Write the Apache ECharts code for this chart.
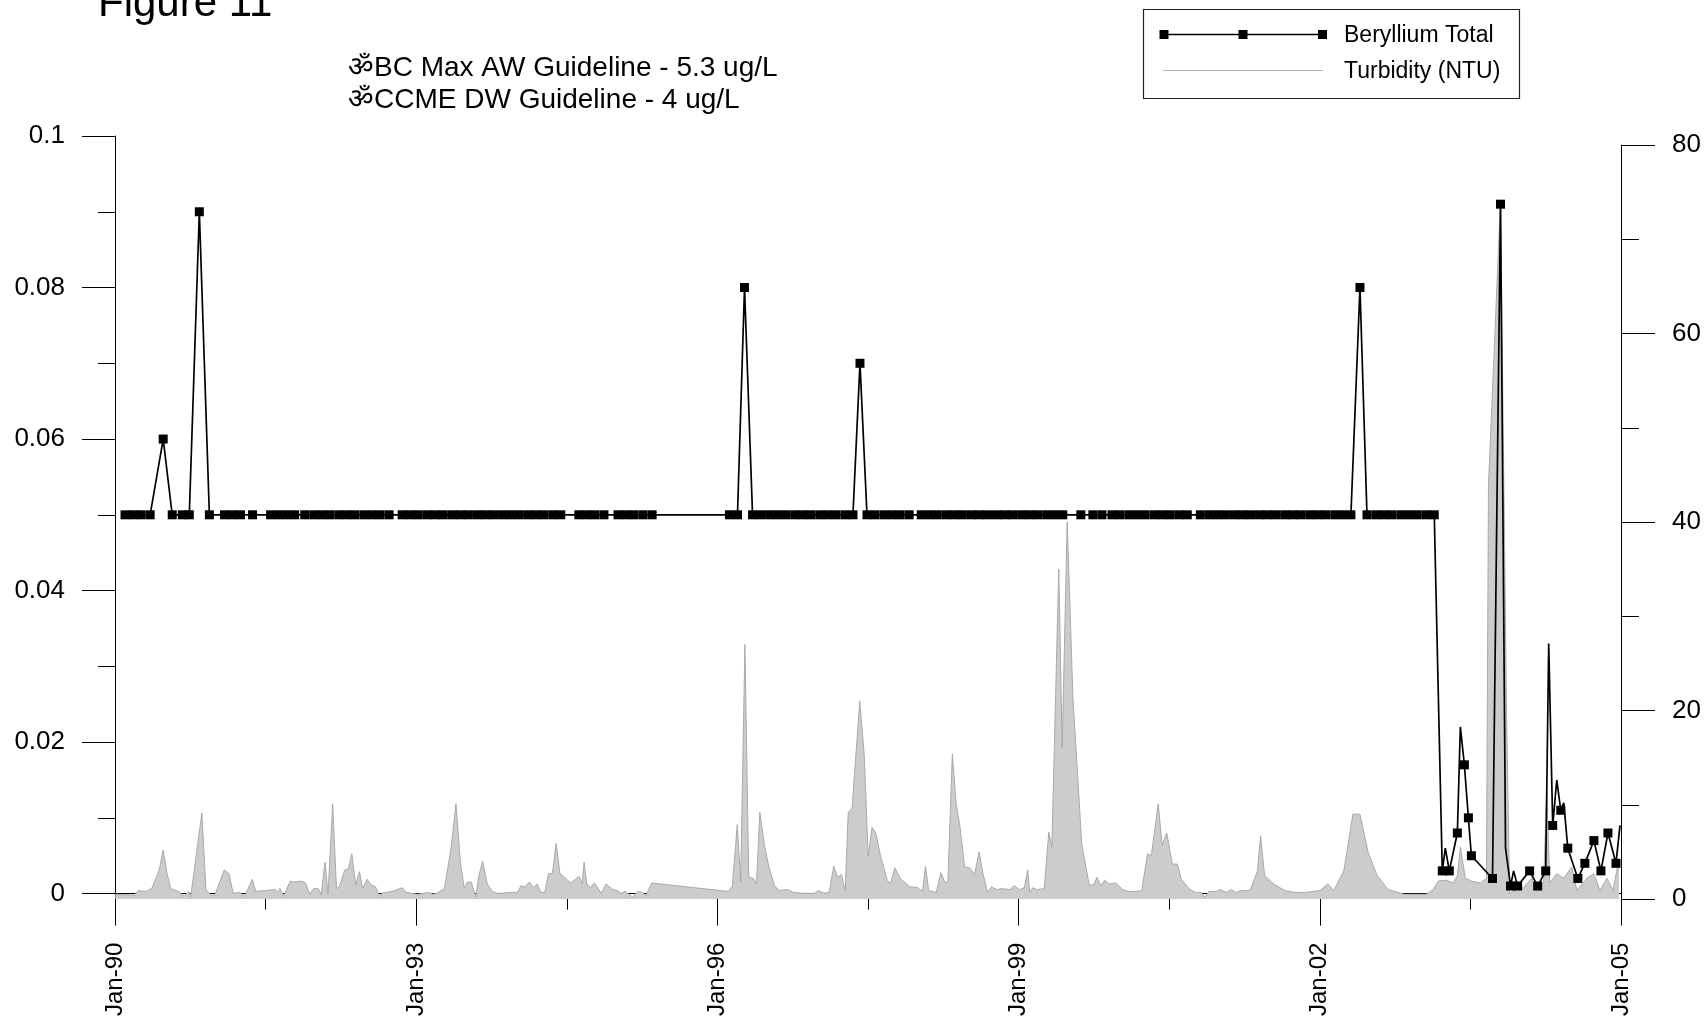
<!DOCTYPE html>
<html>
<head>
<meta charset="utf-8">
<style>html,body{margin:0;padding:0;background:#fff;}#c{width:1707px;height:1019px;}</style>
<script src="https://cdn.jsdelivr.net/npm/echarts@6/dist/echarts.min.js"></script>
</head>
<body>
<div id="c"></div>
<script>
// ---------- data ----------
const xTickLabels = ['Jan-90','Jan-93','Jan-96','Jan-99','Jan-02','Jan-05'];

const beYears = [
1990.10,1990.18,1990.26,1990.35,1990.48,1990.57,1990.67,1990.74,1990.84,1990.94,
1991.09,1991.17,1991.25,1991.37,1991.55,1991.63,1991.71,1991.79,
1991.89,1991.98,1992.06,1992.14,1992.23,1992.31,1992.39,1992.48,1992.56,1992.64,1992.73,
1992.86,1992.94,1993.02,1993.11,1993.19,1993.27,1993.36,1993.44,1993.52,1993.61,
1993.69,1993.77,1993.86,1993.94,1994.02,1994.11,1994.19,1994.27,1994.36,1994.44,
1994.62,1994.70,1994.78,1994.87,
1995.01,1995.09,1995.17,1995.26,
1995.35,
1996.12,1996.20,1996.27,
1996.35,1996.43,1996.52,1996.60,1996.68,1996.77,1996.85,1996.93,1997.02,1997.10,1997.18,1997.27,1997.35,
1997.42,
1997.49,1997.57,1997.66,1997.74,1997.82,1997.91,
1998.03,1998.11,1998.19,1998.28,1998.36,1998.44,1998.53,1998.61,1998.69,
1998.78,1998.86,1998.94,1999.03,1999.11,1999.19,1999.28,1999.36,1999.44,
1999.62,
1999.74,1999.83,
1999.93,2000.01,2000.10,2000.18,2000.26,2000.35,2000.43,2000.51,2000.60,2000.68,
2000.81,2000.90,2000.98,2001.06,2001.15,2001.23,2001.31,2001.40,2001.48,2001.56,
2001.65,2001.73,2001.81,2001.90,2001.98,2002.06,2002.15,2002.23,2002.31,
2002.40,
2002.47,2002.56,2002.64,2002.72,2002.81,2002.89,2002.97,2003.06,2003.14,
2003.22,2003.25,2003.29,2003.37,2003.40,2003.44,2003.48,2003.51,2003.72,2003.80,
2003.85,2003.90,2003.93,2003.97,2004.09,2004.17,2004.25,2004.28,2004.32,2004.36,
2004.40,2004.43,2004.47,2004.57,2004.64,2004.73,2004.80,2004.87,2004.95,2004.99
];
const beValues = [
0.05,0.05,0.05,0.05,0.06,0.05,0.05,0.05,0.09,0.05,
0.05,0.05,0.05,0.05,0.05,0.05,0.05,0.05,
0.05,0.05,0.05,0.05,0.05,0.05,0.05,0.05,0.05,0.05,0.05,
0.05,0.05,0.05,0.05,0.05,0.05,0.05,0.05,0.05,0.05,
0.05,0.05,0.05,0.05,0.05,0.05,0.05,0.05,0.05,0.05,
0.05,0.05,0.05,0.05,
0.05,0.05,0.05,0.05,
0.05,
0.05,0.05,0.08,
0.05,0.05,0.05,0.05,0.05,0.05,0.05,0.05,0.05,0.05,0.05,0.05,0.05,
0.07,
0.05,0.05,0.05,0.05,0.05,0.05,
0.05,0.05,0.05,0.05,0.05,0.05,0.05,0.05,0.05,
0.05,0.05,0.05,0.05,0.05,0.05,0.05,0.05,0.05,
0.05,
0.05,0.05,
0.05,0.05,0.05,0.05,0.05,0.05,0.05,0.05,0.05,0.05,
0.05,0.05,0.05,0.05,0.05,0.05,0.05,0.05,0.05,0.05,
0.05,0.05,0.05,0.05,0.05,0.05,0.05,0.05,0.05,
0.08,
0.05,0.05,0.05,0.05,0.05,0.05,0.05,0.05,0.05,
0.003,0.006,0.003,0.008,0.022,0.017,0.010,0.005,0.002,0.091,
0.006,0.001,0.003,0.001,0.003,0.001,0.003,0.033,0.009,0.015,
0.011,0.012,0.006,0.002,0.004,0.007,0.003,0.008,0.004,0.009
];
// line vertices drawn without a marker
const beNoMarker = [2003.25,2003.40,2003.85,2003.93,2004.28,2004.36,2004.43,2004.99];

const turbYears = [
1990.003,1990.194,1990.232,1990.308,1990.365,1990.441,1990.480,1990.518,1990.556,1990.632,
1990.689,1990.735,1990.754,1990.865,1990.906,1990.956,1990.994,1991.089,1991.135,1991.177,
1991.242,1991.292,1991.368,1991.402,1991.490,1991.596,1991.623,1991.642,1991.680,1991.745,
1991.783,1991.852,1991.898,1991.940,1991.978,1992.023,1992.054,1992.092,1992.122,1992.168,
1992.206,1992.233,1992.290,1992.321,1992.359,1992.397,1992.435,1992.466,1992.511,1992.549,
1992.595,1992.633,1992.671,1992.709,1992.786,1992.862,1992.900,1992.957,1993.014,1993.121,
1993.167,1993.205,1993.281,1993.350,1993.396,1993.441,1993.479,1993.510,1993.548,1993.594,
1993.624,1993.662,1993.708,1993.758,1993.803,1993.853,1993.910,1993.948,1994.006,1994.044,
1994.082,1994.127,1994.166,1994.204,1994.242,1994.280,1994.318,1994.356,1994.394,1994.432,
1994.539,1994.623,1994.653,1994.672,1994.699,1994.737,1994.775,1994.844,1994.890,1994.958,
1995.004,1995.042,1995.080,1995.157,1995.206,1995.252,1995.290,1995.347,
1996.110,1996.149,1996.198,1996.232,1996.274,1996.312,1996.358,1996.389,1996.423,1996.472,
1996.511,1996.568,1996.617,1996.701,1996.758,1996.854,1996.968,1997.006,1997.063,1997.113,
1997.159,1997.197,1997.235,1997.273,1997.303,1997.341,1997.418,1997.463,1997.502,1997.540,
1997.578,1997.624,1997.692,1997.723,1997.768,1997.826,1997.864,1997.913,1997.997,1998.043,
1998.073,1998.104,1998.180,1998.226,1998.264,1998.295,1998.340,1998.378,1998.417,1998.462,
1998.512,1998.561,1998.607,1998.645,1998.691,1998.729,1998.779,1998.836,1998.912,1998.958,
1999.007,1999.057,1999.091,1999.110,1999.141,1999.179,1999.255,1999.301,1999.331,1999.400,
1999.434,1999.484,1999.541,1999.629,1999.705,1999.751,1999.781,1999.819,1999.857,1999.903,
1999.972,2000.036,2000.093,2000.170,2000.227,2000.284,2000.322,2000.391,2000.429,2000.475,
2000.532,2000.582,2000.620,2000.696,2000.761,2000.818,2000.856,2000.894,2000.970,2001.008,
2001.066,2001.123,2001.161,2001.218,2001.306,2001.380,2001.410,2001.450,2001.540,2001.650,
2001.750,2001.860,2002.000,2002.080,2002.140,2002.240,2002.330,2002.400,2002.480,2002.570,
2002.680,2002.840,2003.060,2003.130,2003.180,2003.260,2003.330,2003.370,2003.400,2003.450,
2003.510,2003.600,2003.660,2003.680,2003.800,2003.860,2003.890,2003.940,2004.030,2004.110,
2004.160,2004.230,2004.260,2004.290,2004.360,2004.430,2004.510,2004.560,2004.660,2004.730,
2004.790,2004.860,2004.920,2004.980
];
const turbValues = [
0.5,0.4,0.9,0.8,1.1,3.1,5.2,2.7,1.1,0.8,
0.3,0.8,0.2,9.1,1.0,0.4,0.4,3.1,2.7,0.6,
0.7,0.3,2.1,0.8,0.9,1.0,0.7,1.1,0.3,1.9,
1.8,1.9,1.7,0.5,1.1,1.1,0.5,3.9,0.5,10.1,
1.1,1.3,3.1,3.1,4.8,1.5,2.9,1.1,2.1,1.5,
1.3,0.3,0.7,0.7,0.9,1.2,0.7,0.6,0.5,0.7,
0.5,0.6,1.1,5.6,10.1,3.8,1.1,1.8,1.8,0.2,
2.5,4.0,1.6,0.8,0.6,0.6,0.7,0.7,0.7,1.4,
1.3,1.8,1.2,1.6,0.7,0.7,2.7,2.7,5.9,2.7,
1.7,2.4,1.6,3.9,1.6,1.2,1.7,0.6,1.6,1.0,
0.9,0.6,0.8,0.2,0.8,0.7,0.4,1.7,
0.8,1.4,7.9,1.8,27.0,2.3,2.2,1.6,9.2,5.5,
3.5,1.4,0.9,1.0,0.7,0.6,0.6,0.9,0.6,0.7,
3.5,2.3,2.6,0.9,9.2,9.6,21.0,15.2,4.5,7.6,
7.0,4.6,2.0,1.6,3.3,2.1,1.8,1.3,1.2,0.8,
3.5,0.9,0.7,2.8,1.8,1.7,15.4,10.1,7.6,3.4,
3.3,2.6,5.0,2.7,0.7,1.3,1.0,1.1,1.0,1.4,
1.0,1.2,3.1,0.7,1.2,1.0,1.1,7.1,5.5,35.0,
16.0,40.0,21.4,5.8,1.4,1.6,2.3,1.4,2.0,1.6,
1.7,1.0,0.8,0.8,0.9,4.8,4.6,10.1,5.7,7.0,
3.7,3.7,2.1,1.1,0.7,0.7,0.2,0.8,0.8,1.0,
0.7,1.0,0.7,0.9,0.9,3.0,6.7,2.5,1.6,0.9,
0.7,0.7,0.9,1.6,0.9,3.0,9.0,9.0,5.0,2.5,
1.0,0.5,0.5,1.0,1.9,2.0,1.7,2.5,5.5,2.2,
1.9,1.7,2.2,44.0,74.0,20.0,0.6,0.9,1.2,2.2,
1.2,1.7,11.8,1.7,2.7,2.2,3.4,0.9,2.2,2.7,
0.9,2.2,0.9,4.2
];

// ---------- chart ----------
const X0 = 1990;
const FONT = '"Liberation Sans", Arial, Helvetica, sans-serif';

const beData = beYears.map((y, i) => {
  const item = { value: [y - X0, beValues[i]] };
  if (beNoMarker.indexOf(y) >= 0) item.symbol = 'none';
  return item;
});
const turbData = turbYears.map((y, i) => [y - X0, turbValues[i]]);

const chart = echarts.init(document.getElementById('c'), null, { renderer: 'canvas' });

const axisLineStyle = { color: '#000', width: 1 };

chart.setOption({
  animation: false,
  backgroundColor: '#fff',
  grid: [
    { left: 115, right: 86, top: 136, bottom: 120 },
    { left: 115, right: 86, top: 145, bottom: 120 }
  ],
  xAxis: [
    {
      type: 'value', gridIndex: 0, min: 0, max: 15, interval: 3,
      axisLine: { show: true, onZero: false, lineStyle: axisLineStyle },
      axisTick: { show: true, inside: false, length: 32, lineStyle: axisLineStyle },
      minorTick: { show: true, splitNumber: 2, length: 16, lineStyle: axisLineStyle },
      splitLine: { show: false },
      axisLabel: {
        rotate: 90, margin: 49, color: '#000', fontSize: 24, fontFamily: FONT,
        showMinLabel: true, showMaxLabel: true,
        formatter: v => xTickLabels[Math.round(v / 3)] || ''
      }
    },
    { type: 'value', gridIndex: 1, min: 0, max: 15, show: false }
  ],
  yAxis: [
    {
      type: 'value', gridIndex: 0, position: 'left', min: 0, max: 0.1, interval: 0.02,
      axisLine: { show: true, onZero: false, lineStyle: axisLineStyle },
      axisTick: { show: true, inside: false, length: 33, lineStyle: axisLineStyle },
      minorTick: { show: true, splitNumber: 2, length: 17, lineStyle: axisLineStyle },
      splitLine: { show: false },
      axisLabel: {
        margin: 50, color: '#000', fontSize: 26, fontFamily: FONT,
        formatter: v => String(parseFloat(v.toFixed(2)))
      }
    },
    {
      type: 'value', gridIndex: 1, position: 'right', min: 0, max: 80, interval: 20,
      axisLine: { show: true, onZero: false, lineStyle: axisLineStyle },
      axisTick: { show: true, inside: false, length: 34, lineStyle: axisLineStyle },
      minorTick: { show: true, splitNumber: 2, length: 18, lineStyle: axisLineStyle },
      splitLine: { show: false },
      axisLabel: { margin: 51, color: '#000', fontSize: 26, fontFamily: FONT }
    }
  ],
  series: [
    {
      name: 'Turbidity (NTU)', type: 'line', xAxisIndex: 1, yAxisIndex: 1,
      data: turbData, symbol: 'none', z: 1,
      lineStyle: { color: '#a9a9a9', width: 1 },
      areaStyle: { color: '#cccccc', opacity: 1 }
    },
    {
      name: 'Beryllium Total', type: 'line', xAxisIndex: 0, yAxisIndex: 0,
      data: beData, symbol: 'rect', symbolSize: [9, 9], showAllSymbol: true, z: 5,
      lineStyle: { color: '#000', width: 1.7 },
      itemStyle: { color: '#000' }
    }
  ],
  graphic: [
    { type: 'text', x: 98, y: 4, silent: true,
      style: { text: 'Figure 11', font: '42px ' + FONT, fill: '#000', verticalAlign: 'middle' } },
    { type: 'text', x: 348, y: 68.5, silent: true,
      style: { text: '\u0950BC Max AW Guideline - 5.3 ug/L', font: '28px ' + FONT, fill: '#000', verticalAlign: 'middle' } },
    { type: 'text', x: 348, y: 100, silent: true,
      style: { text: '\u0950CCME DW Guideline - 4 ug/L', font: '28px ' + FONT, fill: '#000', verticalAlign: 'middle' } },
    // legend
    { type: 'rect', silent: true, shape: { x: 1143.5, y: 9.5, width: 376, height: 89 },
      style: { fill: 'none', stroke: '#222', lineWidth: 1.2 } },
    { type: 'line', silent: true, shape: { x1: 1160, y1: 34.5, x2: 1326, y2: 34.5 },
      style: { stroke: '#000', lineWidth: 1.7 } },
    { type: 'rect', silent: true, shape: { x: 1159.5, y: 30, width: 9, height: 9 }, style: { fill: '#000' } },
    { type: 'rect', silent: true, shape: { x: 1238.5, y: 30, width: 9, height: 9 }, style: { fill: '#000' } },
    { type: 'rect', silent: true, shape: { x: 1318, y: 30, width: 9, height: 9 }, style: { fill: '#000' } },
    { type: 'text', x: 1344, y: 35.5, silent: true,
      style: { text: 'Beryllium Total', font: '23px ' + FONT, fill: '#000', verticalAlign: 'middle' } },
    { type: 'line', silent: true, shape: { x1: 1163, y1: 70.5, x2: 1323, y2: 70.5 },
      style: { stroke: '#b4b4b4', lineWidth: 1 } },
    { type: 'text', x: 1344, y: 71.5, silent: true,
      style: { text: 'Turbidity (NTU)', font: '23px ' + FONT, fill: '#000', verticalAlign: 'middle' } }
  ]
});
</script>
</body>
</html>
